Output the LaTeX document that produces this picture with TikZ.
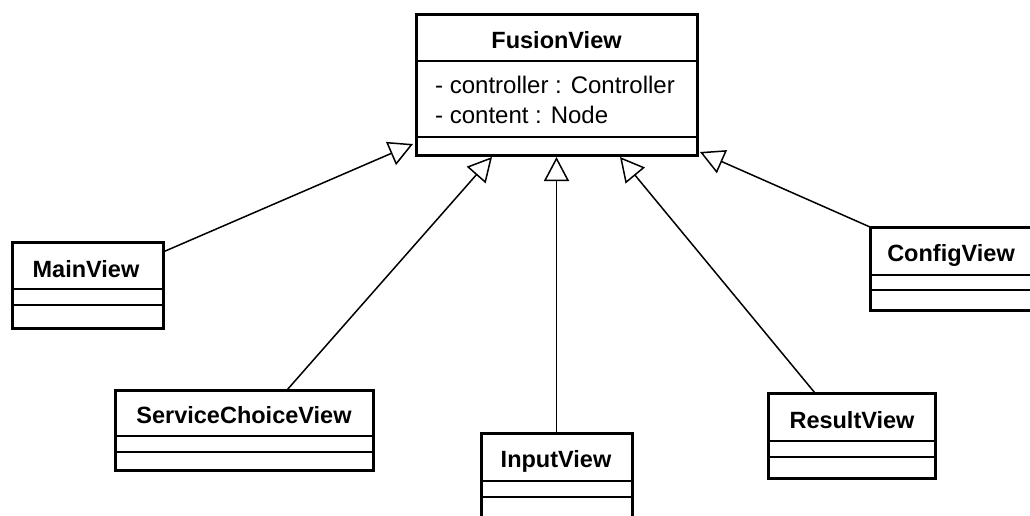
\documentclass[tikz,border=0pt]{standalone}
\usepackage{fontspec}
\setmainfont{Liberation Sans}
\usetikzlibrary{arrows.meta,calc}
\begin{document}
\begin{tikzpicture}[x=1pt,y=-1pt,
  classbox/.style={draw, line width=3pt, outer sep=0pt, inner sep=0pt, anchor=north west},
  namelabel/.style={font=\fontsize{23.5}{28}\selectfont\bfseries, inner sep=0pt, anchor=base},
  attrlabel/.style={font=\fontsize{24}{30}\selectfont, inner sep=0pt, anchor=base west},
  divider/.style={line width=2pt},
  inherits/.style={line width=1.5pt, -{Triangle[open, length=24pt, width=25pt, line width=1.5pt]}}]
\useasboundingbox (0,0) rectangle (1030,515);
\clip (0,0) rectangle (1030,515);

% class boxes
\node[classbox, minimum width=281pt, minimum height=141pt] (fusion)  at (416,14)  {};
\node[classbox, minimum width=151pt, minimum height=86pt]  (main)    at (12,242)  {};
\node[classbox, minimum width=258pt, minimum height=80pt]  (service) at (115,390) {};
\node[classbox, minimum width=151pt, minimum height=110pt] (input)   at (481,433) {};
\node[classbox, minimum width=167pt, minimum height=85pt]  (result)  at (768,393) {};
\node[classbox, minimum width=163pt, minimum height=83pt]  (config)  at (870,227) {};

% compartment dividers
\draw[divider] (416,61) -- (697,61);  \draw[divider] (416,137) -- (697,137);
\draw[divider] (12,289) -- (163,289); \draw[divider] (12,305) -- (163,305);
\draw[divider] (115,436) -- (373,436); \draw[divider] (115,452) -- (373,452);
\draw[divider] (481,481) -- (632,481); \draw[divider] (481,497) -- (632,497);
\draw[divider] (768,441) -- (935,441); \draw[divider] (768,457) -- (935,457);
\draw[divider] (870,275) -- (1033,275); \draw[divider] (870,290) -- (1033,290);

% class names
\node[namelabel] (fusionname)  at (556.5,48) {FusionView};
\node[namelabel] (mainname)    at (86,277)   {MainView};
\node[namelabel] (servicename) at (244,423)  {ServiceChoiceView};
\node[namelabel] (inputname)   at (556,467)  {InputView};
\node[namelabel] (resultname)  at (852,428)  {ResultView};
\node[namelabel] (configname)  at (951,261)  {ConfigView};

% attributes
\node[attrlabel] (attrcontroller) at (435,93)  {- controller : Controller};
\node[attrlabel] (attrcontent)    at (435,123) {- content : Node};

% generalisations
\draw[inherits] ($(main.north east)+(0,10)$) -- ($(fusion.south west)+(-3,-11)$);
\draw[inherits] ($(service.north west)+(172,0)$) -- ($(fusion.south west)+(76,2)$);
\draw[inherits] (input.north) -- ($(fusion.south)+(0,2)$);
\draw[inherits] ($(result.north west)+(47,0)$) -- ($(fusion.south west)+(204,2)$);
\draw[inherits] (config.north west) -- ($(fusion.south east)+(3,-3)$);
\end{tikzpicture}
\end{document}
